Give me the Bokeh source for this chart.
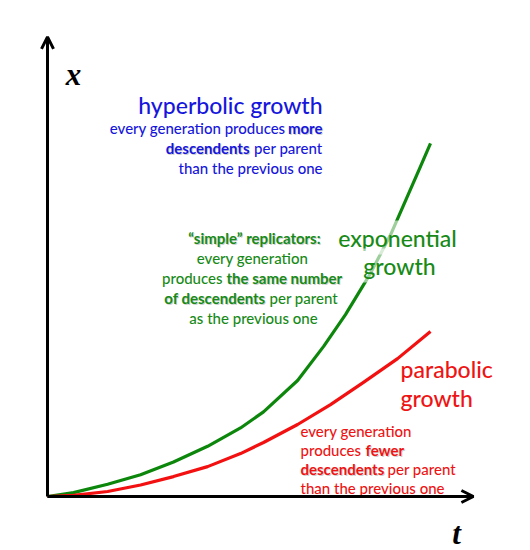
from bokeh.plotting import figure
from bokeh.models import Range1d, Arrow, OpenHead
from bokeh.core.properties import value
from bokeh.embed import file_html
from bokeh.resources import INLINE

# ---- data (t, x) ----
exp_t = [0, 0.68, 1.57, 2.43, 3.29, 4.18, 5.04, 5.64, 6.53, 7.21, 7.78, 8.43, 8.96, 9.40, 9.74, 10.0]
exp_x = [0, 0.10, 0.32, 0.57, 0.90, 1.31, 1.79, 2.21, 3.03, 3.92, 4.75, 5.82, 6.84, 7.84, 8.62, 9.22]
par_t = [0, 0.68, 1.57, 2.43, 3.29, 4.18, 5.04, 5.64, 6.53, 7.39, 8.25, 9.14, 10.0]
par_x = [0, 0.03, 0.13, 0.30, 0.52, 0.78, 1.12, 1.41, 1.88, 2.40, 2.98, 3.60, 4.31]
axis_t_end = 11.12
axis_x_end = 12.0

W, H = 530, 550
OX, OY, S = 47, 496, 38.3   # origin in pixels, px per unit


def X(px):
    return (px - OX) / S


def Y(py):
    return (OY - py) / S


p = figure(width=W, height=H, output_backend="svg", toolbar_location=None,
           x_range=Range1d(-OX / S, (W - OX) / S), y_range=Range1d((OY - H) / S, OY / S),
           x_axis_type=None, y_axis_type=None, min_border=0)
p.grid.visible = False
p.outline_line_color = None
p.background_fill_color = "white"

BLUE = "#1616dc"
GREEN = "#178a17"
RED = "#ee1414"
FONT = value("Lato Medium")
BFONT = value("Lato")

# axes as arrows
p.add_layout(Arrow(end=OpenHead(size=12, line_width=3, line_color="black"),
                   x_start=0, y_start=0, x_end=0, y_end=axis_x_end,
                   line_width=3, line_color="black"))
p.add_layout(Arrow(end=OpenHead(size=12, line_width=3, line_color="black"),
                   x_start=0, y_start=0, x_end=axis_t_end, y_end=0,
                   line_width=3, line_color="black"))

# curves
p.line(exp_t, exp_x, line_color="#0c870c", line_width=3.2, line_join="round")
p.line(par_t, par_x, line_color="#f21010", line_width=3.2, line_join="round")


def txt(px, py, s, color, size, bold=False, align="left", style="normal",
        font=None, shadow=False, bg=False):
    if font is None:
        font = BFONT if bold else FONT
    fs = "bold" if bold else "normal"
    if style == "italic":
        fs = "bold italic" if bold else "italic"
    if shadow:
        p.text(x=[X(px + 1)], y=[Y(py + 1.2)], text=[s], text_color="#777777",
               text_alpha=0.35, text_font=font, text_font_size=f"{size}px",
               text_font_style=fs, text_align=align, text_baseline="middle")
    kw = {}
    if bg:
        kw = dict(background_fill_color="white", background_fill_alpha=0.6,
                  padding=3)
    p.text(x=[X(px)], y=[Y(py)], text=[s], text_color=color, text_font=font,
           text_font_size=f"{size}px", text_font_style=fs, text_align=align,
           text_baseline="middle", **kw)


BIG = 23
SM = 15

# axis labels
txt(73, 74, "x", "black", 31, bold=True, align="center", style="italic",
    font=value("Liberation Serif"))
txt(456, 533, "t", "black", 31, bold=True, align="center", style="italic",
    font=value("Liberation Serif"))

# hyperbolic (blue, right aligned at 322)
txt(322, 104, "hyperbolic growth", BLUE, BIG, align="right")
txt(285, 127, "every generation produces", BLUE, SM, align="right")
txt(322, 127, "more", BLUE, SM, bold=True, align="right", shadow=True)
txt(249, 147, "descendents", BLUE, SM, bold=True, align="right", shadow=True)
txt(322, 147, "per parent", BLUE, SM, align="right")
txt(322, 167, "than the previous one", BLUE, SM, align="right")

# exponential (green)
txt(397, 237, "exponential", GREEN, BIG, align="center", bg=True)
txt(399, 265, "growth", GREEN, BIG, align="center", bg=True)
txt(254, 237, "\u201csimple\u201d replicators:", GREEN, SM, bold=True, align="center", shadow=True)
txt(252, 257, "every generation", GREEN, SM, align="center")
txt(222, 277, "produces", GREEN, SM, align="right")
txt(226, 277, "the same number", GREEN, SM, bold=True, align="left", shadow=True)
txt(265, 297, "of descendents", GREEN, SM, bold=True, align="right", shadow=True)
txt(269, 297, "per parent", GREEN, SM, align="left")
txt(253, 317, "as the previous one", GREEN, SM, align="center")

# parabolic (red, left aligned)
txt(400, 368, "parabolic", RED, BIG, align="left")
txt(400, 397, "growth", RED, BIG, align="left")
txt(300, 430, "every generation", RED, SM, align="left")
txt(300, 449, "produces", RED, SM, align="left")
txt(365, 449, "fewer", RED, SM, bold=True, align="left", shadow=True)
txt(300, 468, "descendents", RED, SM, bold=True, align="left", shadow=True)
txt(387, 468, "per parent", RED, SM, align="left")
txt(300, 487, "than the previous one", RED, SM, align="left")

open("out.html", "w").write(file_html(p, INLINE))
